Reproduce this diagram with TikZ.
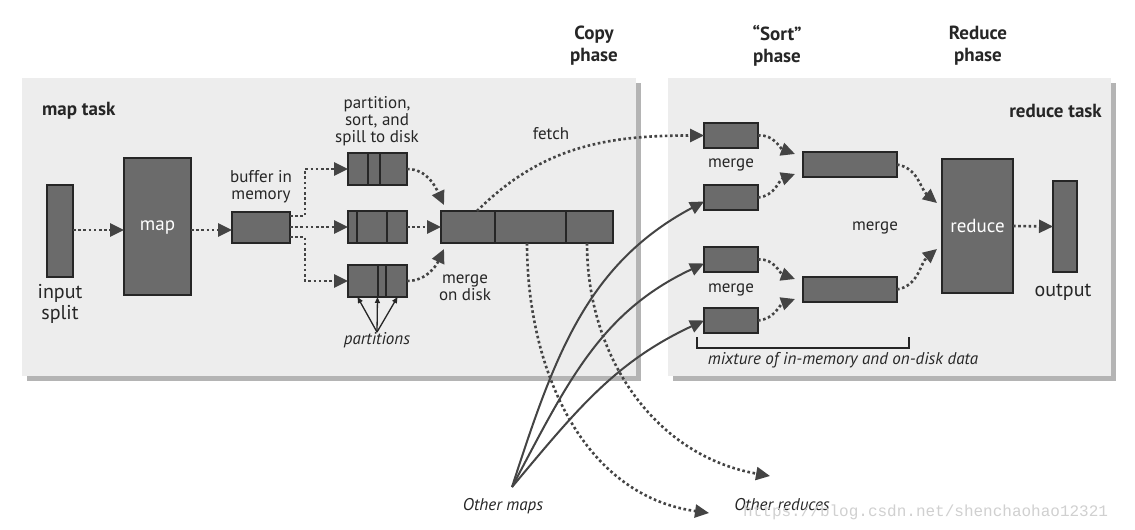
\documentclass[tikz,border=0pt]{standalone}
\usepackage{fontspec}
\setmainfont{PT Sans}
\setmonofont{Liberation Mono}
\usetikzlibrary{arrows.meta,calc}
\definecolor{boxfill}{HTML}{6B6B6B}
\definecolor{panelfill}{HTML}{EDEDED}
\definecolor{panelshadow}{HTML}{B4B4B4}
\definecolor{linecol}{HTML}{444444}
\definecolor{wmark}{HTML}{D0D0D0}
\tikzset{
  gbox/.style={draw=black!85, line width=2pt, fill=boxfill, inner sep=0pt, outer sep=0pt},
  dotarrow/.style={draw=linecol, line width=2.6pt, dash pattern=on 2.6pt off 2.6pt, -{Triangle[length=14pt,width=13pt]}},
  solarrow/.style={draw=linecol, line width=2pt, -{Triangle[length=14pt,width=13pt]}},
  thinarrow/.style={draw=black!85, line width=1.3pt, -{Triangle[length=6pt,width=5pt]}},
  lbl/.style={font=\fontsize{17}{17}\selectfont, align=center, inner sep=0pt, text=black!85},
  biglbl/.style={font=\fontsize{20}{21}\selectfont, align=center, inner sep=0pt, text=black!85},
  boldlbl/.style={font=\fontsize{19}{22}\selectfont\bfseries, align=center, inner sep=0pt, text=black!85},
  itlbl/.style={font=\fontsize{17}{17}\selectfont\itshape, inner sep=0pt, text=black!85},
  whitelbl/.style={font=\fontsize{19}{19}\selectfont, text=white},
  panel/.style={fill=panelfill, draw=none},
  pshadow/.style={fill=panelshadow, draw=none},
}
\begin{document}
\begin{tikzpicture}[x=1pt,y=-1pt]
\useasboundingbox (0,0) rectangle (1135,530);
\fill[white] (0,0) rectangle (1135,530);
% panels
\fill[pshadow] (27,83) rectangle (641,381);
\fill[panel] (22,78) rectangle (636,376);
\fill[pshadow] (673,83) rectangle (1116,381);
\fill[panel] (668,78) rectangle (1111,376);
% phase titles
\node[boldlbl] (copyph) at (594,46) {Copy\\phase};
\node[boldlbl] (sortph) at (777,46) {“Sort”\\phase};
\node[boldlbl] (redph) at (978,46) {Reduce\\phase};
\node[boldlbl, anchor=west] (maptask) at (42,111) {map task};
\node[boldlbl, anchor=east] (redtask) at (1102,111) {reduce task};
% map side
\node[gbox, minimum width=26pt, minimum height=92pt] (in) at (60,231) {};
\node[biglbl, anchor=north] (inlbl) at (60,284) {input\\split};
\node[gbox, minimum width=67pt, minimum height=137pt] (map) at (157.5,226.5) {};
\node[whitelbl] (maplbl) at (157.5,228) {map};
\node[gbox, minimum width=58pt, minimum height=31pt] (buf) at (261,227) {};
\node[lbl, anchor=south] (buflbl) at (261,203) {buffer in\\memory};
\node[gbox, minimum width=59pt, minimum height=32pt] (sp1) at (377.5,169) {};
\node[gbox, minimum width=59pt, minimum height=32pt] (sp2) at (377.5,227) {};
\node[gbox, minimum width=59pt, minimum height=32pt] (sp3) at (377.5,281) {};
\draw[black!85, line width=2pt] ([xshift=20pt]sp1.north west) -- ([xshift=20pt]sp1.south west)
  ([xshift=32pt]sp1.north west) -- ([xshift=32pt]sp1.south west)
  ([xshift=9pt]sp2.north west) -- ([xshift=9pt]sp2.south west)
  ([xshift=39pt]sp2.north west) -- ([xshift=39pt]sp2.south west)
  ([xshift=30pt]sp3.north west) -- ([xshift=30pt]sp3.south west)
  ([xshift=38pt]sp3.north west) -- ([xshift=38pt]sp3.south west);
\node[lbl, anchor=south] (splbl) at (377,146) {partition,\\sort, and\\spill to disk};
\node[gbox, minimum width=172pt, minimum height=32pt] (md) at (527,227) {};
\draw[black!85, line width=2pt] ([xshift=54pt]md.north west) -- ([xshift=54pt]md.south west)
  ([xshift=125pt]md.north west) -- ([xshift=125pt]md.south west);
\node[lbl, anchor=north] (mdlbl) at (465,275) {merge\\on disk};
\node[itlbl] (partlbl) at (377,340) {partitions};
\node[lbl] (fetchlbl) at (551,134) {fetch};
% map side connectors
\draw[dotarrow] (in.east |- 0,230) -- (map.west |- 0,230);
\draw[dotarrow] (map.east |- 0,230) -- (buf.west |- 0,230);
\draw[dotarrow] ([yshift=11pt]buf.east) -- ++(15,0) |- (sp1.west);
\draw[dotarrow] (buf.east) -- (sp2.west);
\draw[dotarrow] ([yshift=-10pt]buf.east) -- ++(15,0) |- (sp3.west);
\draw[dotarrow] (sp1.east) to[out=0,in=115] ([xshift=3pt,yshift=6pt]md.north west);
\draw[dotarrow] (sp2.east) -- (md.west);
\draw[dotarrow] (sp3.east) to[out=0,in=-115] ([xshift=3pt,yshift=-6pt]md.south west);
\draw[thinarrow] (partlbl.north) -- ([xshift=-20pt]sp3.south);
\draw[thinarrow] (partlbl.north) -- (sp3.south);
\draw[thinarrow] (partlbl.north) -- ([xshift=20pt]sp3.south);
% reduce side
\node[gbox, minimum width=54pt, minimum height=25pt] (rm1) at (731,135.5) {};
\node[gbox, minimum width=54pt, minimum height=25pt] (rm2) at (731,197.5) {};
\node[gbox, minimum width=54pt, minimum height=25pt] (rm3) at (731,259.5) {};
\node[gbox, minimum width=54pt, minimum height=25pt] (rm4) at (731,320.5) {};
\node[lbl] (mlbl1) at (731,165) {merge};
\node[lbl] (mlbl2) at (731,290) {merge};
\node[gbox, minimum width=94pt, minimum height=25pt] (rmA) at (850,164.5) {};
\node[gbox, minimum width=94pt, minimum height=25pt] (rmB) at (850,289.5) {};
\node[lbl] (mlbl3) at (875,228) {merge};
\node[gbox, minimum width=71pt, minimum height=134pt] (red) at (977.5,226) {};
\node[whitelbl] (redlbl) at (977.5,226) {reduce};
\node[gbox, minimum width=24pt, minimum height=91pt] (out) at (1065,226.5) {};
\node[biglbl] (outlbl) at (1063,292) {output};
\draw[dotarrow] (rm1.east) to[out=5,in=160] ([xshift=-8pt,yshift=-2pt]rmA.north west);
\draw[dotarrow] (rm2.east) to[out=5,in=200] ([xshift=-8pt,yshift=3pt]rmA.south west);
\draw[dotarrow] (rm3.east) to[out=5,in=160] ([xshift=-8pt,yshift=-2pt]rmB.north west);
\draw[dotarrow] (rm4.east) to[out=5,in=200] ([xshift=-8pt,yshift=3pt]rmB.south west);
\draw[dotarrow] (rmA.east) to[out=-10,in=140] ([xshift=-5pt,yshift=-44pt]red.north west);
\draw[dotarrow] (rmB.east) to[out=10,in=220] ([xshift=-5pt,yshift=44pt]red.south west);
\draw[dotarrow] (red.east) -- (out.west);
\draw[black!85, line width=1.5pt] (697,337) -- (697,348) -- (909,348) -- (909,337);
\node[itlbl] (mixlbl) at (843,360) {mixture of in-memory and on-disk data};
% cross connectors
\node[itlbl] (omaps) at (503,506) {Other maps};
\node[itlbl] (oreds) at (782,505) {Other reduces};
\coordinate (om) at (512,487);
\coordinate (or1) at (709,513);
\coordinate (or2) at (770,476);
\draw[dotarrow] ([xshift=-50pt]md.north) to[out=45,in=180] (rm1.west);
\draw[dotarrow] (md.south) to[out=-90,in=172] (or1);
\draw[dotarrow] ([xshift=60pt]md.south) to[out=-90,in=170] (or2);
\draw[solarrow] (om) to[out=72,in=208] ([yshift=-4pt]rm2.west);
\draw[solarrow] (om) to[out=62,in=205] ([yshift=-4pt]rm3.west);
\draw[solarrow] (om) to[out=50,in=205] (rm4.west);
% watermark
\node[font=\fontsize{16}{16}\selectfont\ttfamily, text=wmark, anchor=west, inner sep=0pt] (wm) at (743,512) {https://blog.csdn.net/shenchaohao12321};
\end{tikzpicture}
\end{document}
